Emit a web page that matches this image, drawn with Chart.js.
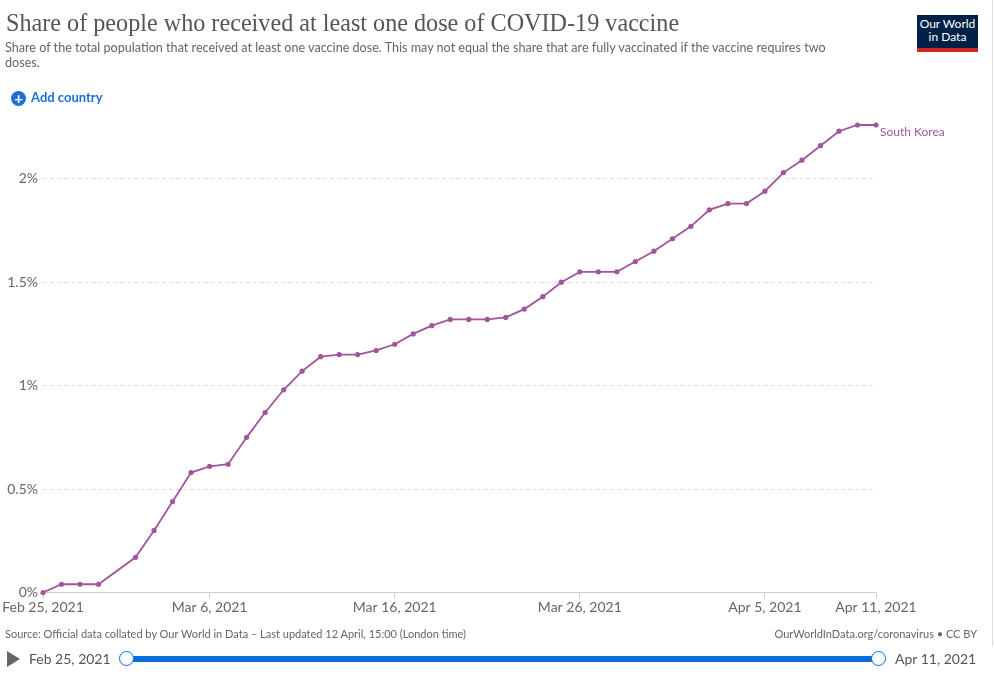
<!DOCTYPE html>
<html>
<head>
<meta charset="utf-8">
<script src="https://cdn.jsdelivr.net/npm/chart.js@4"></script>
<style>
  body { margin: 0; background: #fff; width: 994px; height: 675px; overflow: hidden; font-family: Lato, "Noto Sans", sans-serif; }
  #wrap { position: relative; width: 994px; height: 675px; }
  canvas { position: absolute; left: 0; top: 0; }
  .abs { position: absolute; white-space: nowrap; }
  #title { left: 6px; top: 8px; font-family: "Liberation Serif", serif; font-size: 26px; color: #555; transform-origin: left top; }
  #subtitle { left: 5px; top: 40px; font-size: 12.6px; line-height: 15px; color: #666; white-space: normal; width: 835px; }
  #addc { left: 11px; top: 89px; font-size: 13px; color: #1d6fd6; font-weight: bold; }
  #addc .plus { display: inline-block; width: 15px; height: 15px; border-radius: 50%; background: #1d6fd6; color: #fff; text-align: center; line-height: 15px; font-size: 15px; vertical-align: -2px; margin-right: 5px; }
  #logo { left: 917px; top: 15px; width: 61px; height: 31px; background: #002147; border-bottom: 4px solid #ce261e; color: #fff; font-size: 12px; line-height: 13px; text-align: center; padding-top: 2px; box-sizing: content-box; }
  #source { left: 5px; top: 627px; font-size: 11px; color: #666; }
  #credit { right: 17px; top: 627px; font-size: 11px; color: #666; }
  #play { left: 7px; top: 651px; width: 0; height: 0; border-top: 8px solid transparent; border-bottom: 8px solid transparent; border-left: 13px solid #666; }
  #start { left: 29px; top: 650px; font-size: 14px; color: #555; }
  #end { left: 895px; top: 650px; font-size: 14px; color: #555; }
  #track { left: 126px; top: 656px; width: 753px; height: 6px; background: #0c6ed8; }
  .knob { top: 651px; width: 13px; height: 13px; border-radius: 50%; background: #fff; border: 1.5px solid #0c6ed8; }
  #frame { left: 992px; top: 0; width: 1px; height: 646px; background: #ddd; }
</style>
</head>
<body>
<div id="wrap">
  <canvas id="myChart" width="994" height="675"></canvas>
  <div class="abs" id="title">Share of people who received at least one dose of COVID-19 vaccine</div>
  <div class="abs" id="subtitle">Share of the total population that received at least one vaccine dose. This may not equal the share that are fully vaccinated if the vaccine requires two doses.</div>
  <div class="abs" id="addc"><span class="plus">+</span>Add country</div>
  <div class="abs" id="logo">Our World<br>in Data</div>
  <div class="abs" id="source">Source: Official data collated by Our World in Data – Last updated 12 April, 15:00 (London time)</div>
  <div class="abs" id="credit">OurWorldInData.org/coronavirus • CC BY</div>
  <div class="abs" id="play"></div>
  <div class="abs" id="start">Feb 25, 2021</div>
  <div class="abs" id="track"></div>
  <div class="abs knob" style="left:119px"></div>
  <div class="abs knob" style="left:871px"></div>
  <div class="abs" id="end">Apr 11, 2021</div>
  <div class="abs" id="frame"></div>
</div>
<script>
// data (share in %), Mar 1 has no value
const dates = [
  "2021-02-25", "2021-02-26", "2021-02-27", "2021-02-28", "2021-03-02", "2021-03-03",
  "2021-03-04", "2021-03-05", "2021-03-06", "2021-03-07", "2021-03-08", "2021-03-09",
  "2021-03-10", "2021-03-11", "2021-03-12", "2021-03-13", "2021-03-14", "2021-03-15",
  "2021-03-16", "2021-03-17", "2021-03-18", "2021-03-19", "2021-03-20", "2021-03-21",
  "2021-03-22", "2021-03-23", "2021-03-24", "2021-03-25", "2021-03-26", "2021-03-27",
  "2021-03-28", "2021-03-29", "2021-03-30", "2021-03-31", "2021-04-01", "2021-04-02",
  "2021-04-03", "2021-04-04", "2021-04-05", "2021-04-06", "2021-04-07", "2021-04-08",
  "2021-04-09", "2021-04-10", "2021-04-11",
];
const southKorea = [
  0, 0.04, 0.04, 0.04, 0.17, 0.30,
  0.44, 0.58, 0.61, 0.62, 0.75, 0.87,
  0.98, 1.07, 1.14, 1.15, 1.15, 1.17,
  1.20, 1.25, 1.29, 1.32, 1.32, 1.32,
  1.33, 1.37, 1.43, 1.50, 1.55, 1.55,
  1.55, 1.60, 1.65, 1.71, 1.77, 1.85,
  1.88, 1.88, 1.94, 2.03, 2.09, 2.16,
  2.23, 2.26, 2.26,
];
const seriesName = "South Korea";
const xTickDates = ["2021-02-25", "2021-03-06", "2021-03-16", "2021-03-26", "2021-04-05", "2021-04-11"];
const xTickLabels = ["Feb 25, 2021", "Mar 6, 2021", "Mar 16, 2021", "Mar 26, 2021", "Apr 5, 2021", "Apr 11, 2021"];
const yTicks = [0, 0.5, 1, 1.5, 2];

const lineColor = "#a2559c";

// days since first date
const dayOf = (d) => (Date.parse(d) - Date.parse(dates[0])) / 86400000;
const points = dates.map((d, i) => ({ x: dayOf(d), y: southKorea[i] }));
const tickDays = xTickDates.map(dayOf);

// squeeze the title to the width it has in the picture
const title = document.getElementById("title");
title.style.transform = "scaleX(" + (673 / title.offsetWidth) + ")";

const endLabel = {
  id: "endLabel",
  afterDatasetsDraw(chart) {
    const meta = chart.getDatasetMeta(0);
    const last = meta.data[meta.data.length - 1];
    const c = chart.ctx;
    c.save();
    c.font = "12px Lato";
    c.fillStyle = lineColor;
    c.textBaseline = "middle";
    c.fillText(seriesName, last.x + 4, last.y + 7);
    c.restore();
  },
};

const ctx = document.getElementById("myChart").getContext("2d");
const myChart = new Chart(ctx, {
  type: "line",
  data: {
    datasets: [
      {
        label: seriesName,
        data: points,
        borderColor: lineColor,
        backgroundColor: lineColor,
        borderWidth: 1.8,
        pointRadius: 2.6,
        pointBorderWidth: 0,
        tension: 0,
        clip: false,
      },
    ],
  },
  options: {
    responsive: false,
    animation: false,
    devicePixelRatio: 1,
    layout: { padding: { top: 125, right: 118, bottom: 52, left: 0 } },
    plugins: { legend: { display: false }, tooltip: { enabled: false } },
    scales: {
      x: {
        type: "linear",
        min: 0,
        max: dayOf(dates[dates.length - 1]),
        afterBuildTicks: (s) => { s.ticks = tickDays.map((v) => ({ value: v })); },
        afterFit: (s) => { s.height = 30.5; },
        grid: { drawOnChartArea: false, drawTicks: true, tickLength: 6, color: "#ccc" },
        border: { color: "#ccc" },
        ticks: {
          padding: 1,
          maxRotation: 0,
          autoSkip: false,
          color: "#666",
          font: { family: "Lato", size: 14 },
          callback: (v) => xTickLabels[tickDays.indexOf(v)],
        },
      },
      y: {
        min: 0,
        max: 2.26,
        afterBuildTicks: (s) => { s.ticks = yTicks.map((v) => ({ value: v })); },
        afterFit: (s) => { s.width = 43; },
        grid: { drawTicks: false, color: "#ddd" },
        border: { display: false, dash: [4, 3] },
        ticks: {
          padding: 5,
          color: "#666",
          font: { family: "Lato", size: 14 },
          callback: (v) => v + "%",
        },
      },
    },
  },
  plugins: [endLabel],
});
</script>
</body>
</html>
